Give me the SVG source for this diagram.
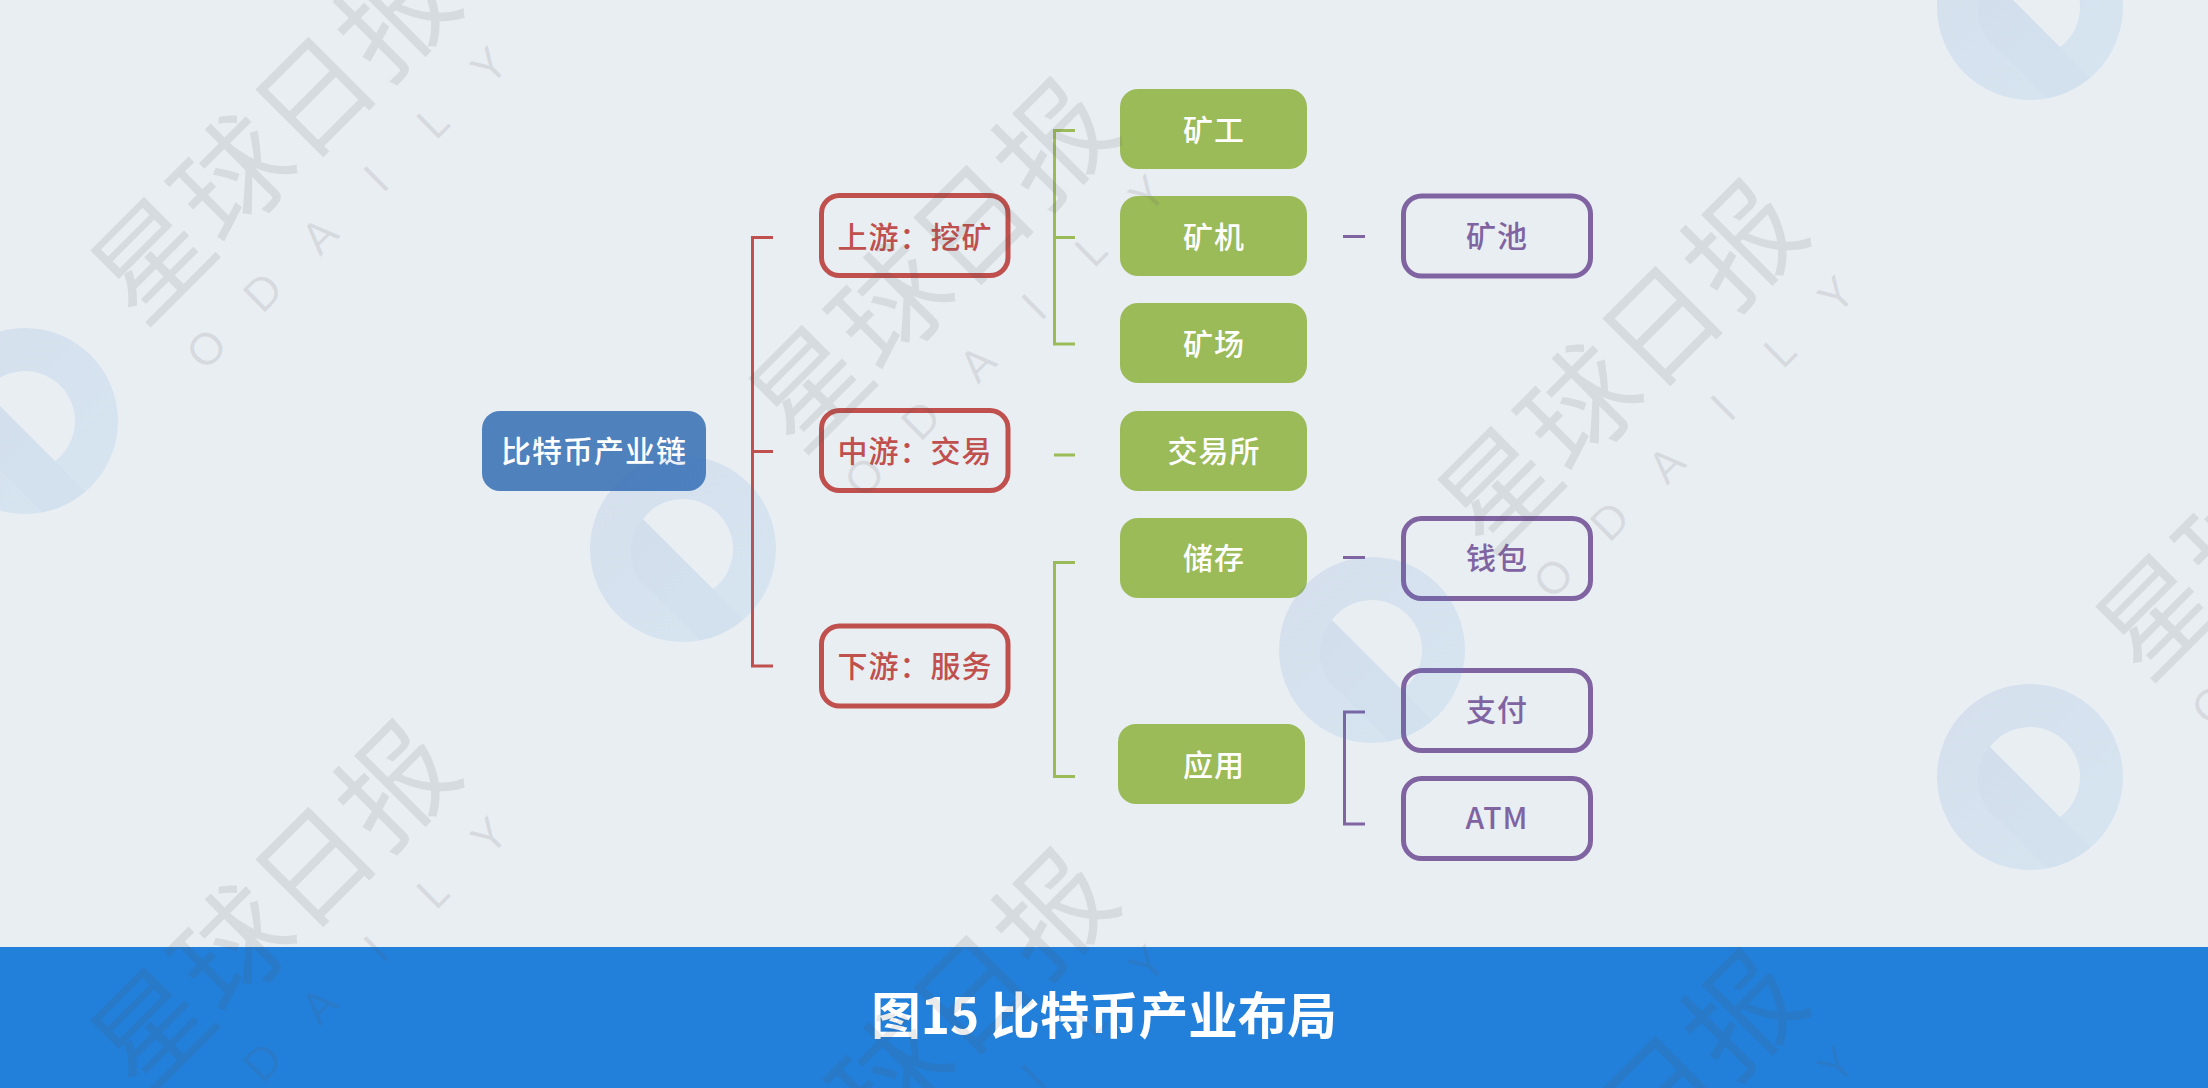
<svg xmlns="http://www.w3.org/2000/svg" xmlns:xlink="http://www.w3.org/1999/xlink" width="2208" height="1088" viewBox="0 0 2208 1088">
<style>
text{font-family:"Noto Sans CJK SC","Noto Sans",sans-serif;text-anchor:middle}
.lbl{font-size:30px;letter-spacing:1px;font-weight:500}
.w{fill:#fff}
.r{fill:#C0504D}
.p{fill:#8064A2}
.g{fill:#9BBB59}
.box{fill:none;stroke-width:5}
.bk{fill:none;stroke-width:3}
.wm1{font-size:114px;font-weight:400;fill:#555;fill-opacity:.12}
.wm2{font-family:Lato,"Liberation Sans",sans-serif;font-size:44px;font-weight:400;fill:#555;fill-opacity:.12}
</style>
<defs>
<linearGradient id="lg" x1="0" y1="0" x2="1" y2="1"><stop offset="0" stop-color="#3A62B8" stop-opacity=".11"/><stop offset="1" stop-color="#2A96DE" stop-opacity=".1"/></linearGradient>
<g id="logo">
<path fill="url(#lg)" fill-rule="evenodd" d="M-93,0A93,93 0 1 1 93,0A93,93 0 1 1 -93,0ZM-40,-30A50,50 0 1 1 30,40Z"/>
<path fill="#35508F" fill-opacity=".015" d="M-40,-30L60.7,70.7A93,93 0 0 1 17.4,91.4L-29,45A50,50 0 0 1 -40,-30Z"/>
</g>
<g id="mark">
<g transform="translate(128,-161) rotate(-45)">
<text class="wm1" x="0 115 230 345" y="40">星球日报</text>
<text class="wm2" x="-25 55 135 215 295 375" y="116">ODAILY</text>
</g>
</g>
</defs>
<rect width="2208" height="1088" fill="#E9EEF3"/>
<rect id="banner" y="947" width="2208" height="141" fill="#2380DA"/>
<text id="title" x="1104" y="1034" font-size="49.500" font-weight="700" fill="#fff">图15 比特币产业布局</text>
<g id="connectors">
<path class="bk" stroke="#C0504D" d="M773,237.500H752.500V666H773M752.500,451.500H773"/>
<path class="bk" stroke="#9BBB59" d="M1075,130.500H1054.500V344H1075M1054.500,237.500H1075M1054,455H1075M1075,562.500H1054.500V776.500H1075"/>
<path class="bk" stroke="#8064A2" d="M1343,236.500H1365M1343,557.500H1365M1365,712H1344.500V824H1365"/>
</g>
<g id="n-root"><rect x="482" y="411" width="224" height="80" rx="18" fill="#4F81BD"/><text class="lbl w" x="594" y="462">比特币产业链</text></g>
<g id="n-up"><rect class="box" stroke="#C0504D" x="821.500" y="195.500" width="186.500" height="80" rx="18"/><text class="lbl r" x="915" y="248">上游：挖矿</text></g>
<g id="n-mid"><rect class="box" stroke="#C0504D" x="821.500" y="410.500" width="186.500" height="80" rx="18"/><text class="lbl r" x="915" y="462">中游：交易</text></g>
<g id="n-down"><rect class="box" stroke="#C0504D" x="821.500" y="626" width="186.500" height="80" rx="18"/><text class="lbl r" x="915" y="677">下游：服务</text></g>
<g id="n-miner"><rect class="g" x="1120" y="89" width="187" height="80" rx="18"/><text class="lbl w" x="1214" y="141">矿工</text></g>
<g id="n-rig"><rect class="g" x="1120" y="196" width="187" height="80" rx="18"/><text class="lbl w" x="1214" y="248">矿机</text></g>
<g id="n-farm"><rect class="g" x="1120" y="303" width="187" height="80" rx="18"/><text class="lbl w" x="1214" y="355">矿场</text></g>
<g id="n-ex"><rect class="g" x="1120" y="411" width="187" height="80" rx="18"/><text class="lbl w" x="1214" y="462">交易所</text></g>
<g id="n-store"><rect class="g" x="1120" y="518" width="187" height="80" rx="18"/><text class="lbl w" x="1214" y="569">储存</text></g>
<g id="n-app"><rect class="g" x="1118" y="724" width="187" height="80" rx="18"/><text class="lbl w" x="1214" y="776">应用</text></g>
<g id="n-pool"><rect class="box" stroke="#8064A2" x="1403.500" y="196" width="187" height="80" rx="18"/><text class="lbl p" x="1497" y="247">矿池</text></g>
<g id="n-wallet"><rect class="box" stroke="#8064A2" x="1403.500" y="518.500" width="187" height="80" rx="18"/><text class="lbl p" x="1497" y="569">钱包</text></g>
<g id="n-pay"><rect class="box" stroke="#8064A2" x="1403.500" y="670.500" width="187" height="80" rx="18"/><text class="lbl p" x="1497" y="721">支付</text></g>
<g id="n-atm"><rect class="box" stroke="#8064A2" x="1403.500" y="778.500" width="187" height="80" rx="18"/><text class="lbl p" x="1497" y="829">ATM</text></g>
<g id="watermark">
<use xlink:href="#logo" x="25" y="421"/><use xlink:href="#logo" x="683" y="549"/><use xlink:href="#logo" x="1372" y="650"/><use xlink:href="#logo" x="2030" y="777"/><use xlink:href="#logo" x="2030" y="7"/>
<use xlink:href="#mark" x="25" y="421"/><use xlink:href="#mark" x="683" y="549"/><use xlink:href="#mark" x="1372" y="650"/><use xlink:href="#mark" x="2030" y="777"/>
<use xlink:href="#mark" x="25" y="1191"/><use xlink:href="#mark" x="683" y="1319"/><use xlink:href="#mark" x="1372" y="1420"/>
</g>
</svg>
